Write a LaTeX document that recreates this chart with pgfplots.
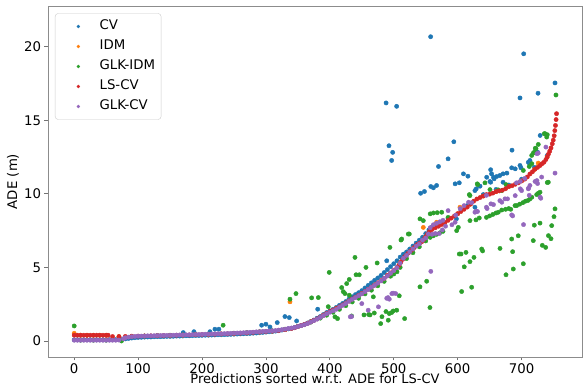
\documentclass[border=0pt]{standalone}
\usepackage{fontspec}
\setmainfont{DejaVu Sans}
\usepackage{pgfplots}
\pgfplotsset{compat=1.18}
\definecolor{tabblue}{HTML}{1F77B4}
\definecolor{taborange}{HTML}{FF7F0E}
\definecolor{tabgreen}{HTML}{2CA02C}
\definecolor{tabred}{HTML}{D62728}
\definecolor{tabpurple}{HTML}{9467BD}
\newcommand{\fs}{\fontsize{13.3}{16}\selectfont}
\pgfplotsset{
  dotlegend/.style={legend image code/.code={\path (0pt,0pt) (38pt,0pt); \draw[##1,mark size=1.5pt] plot coordinates {(18pt,0pt)};}},
  dots/.style={only marks, mark=*, mark size=2.15pt, mark options={draw=#1, fill=#1}, color=#1, dotlegend},
}
\begin{document}
\begin{tikzpicture}
\begin{axis}[
  scale only axis, width=534pt, height=351pt,
  xmin=-41, xmax=794.5, ymin=-1.09, ymax=22.77,
  xtick={0,100,...,700}, ytick={0,5,10,15,20},
  tick align=outside, major tick length=3.5pt,
  tick pos=left,
  tick style={black!55, line width=0.8pt},
  axis line style={black!45, line width=0.8pt},
  /pgf/number format/assume math mode=true,
  ticklabel style={font=\fs},
  xticklabel style={inner sep=1pt, yshift=-1.6pt},
  xlabel={Predictions sorted w.r.t. ADE for LS-CV},
  ylabel={ADE (m)},
  label style={font=\fs},
  xlabel style={at={(axis description cs:0.5,-0.0755)}, anchor=base, inner sep=1pt, font=\fontsize{13}{15}\selectfont},
  ylabel style={at={(axis description cs:-0.0655,0.5)}, anchor=center},
  legend cell align=left,
  legend style={at={(0,1)}, anchor=north west, xshift=7pt, yshift=-7.3pt,
    draw=black!20, rounded corners=3pt, fill=white, font=\fs,
    inner xsep=5pt, inner ysep=5.5pt, row sep=5pt,
    nodes={inner sep=1pt, text height=10pt, text depth=3pt}},
]
% CV
\addplot[dots=tabblue] coordinates {
(0,0.08)(5,0.08)(10,0.08)(15,0.08)(20,0.08)(25,0.08)(30,0.08)(35,0.08)(40,0.08)(45,0.08)(50,0.08)(55,0.08)(60,0.09)(65,0.09)(70,0.1)(75,0.12)
(80,0.14)(85,0.17)(90,0.2)(95,0.22)(100,0.24)(105,0.25)(110,0.26)(115,0.27)(120,0.27)(125,0.28)(130,0.29)(135,0.29)(140,0.30)(145,0.31)(150,0.31)(155,0.32)(160,0.33)(165,0.33)(170,0.34)(175,0.35)(180,0.35)(185,0.36)(190,0.37)(195,0.37)(200,0.38)(205,0.39)(210,0.39)(215,0.40)(220,0.41)(225,0.42)(230,0.42)(235,0.43)(240,0.44)(245,0.45)(250,0.46)(255,0.47)(260,0.48)(265,0.49)(270,0.50)(275,0.51)(280,0.53)(285,0.54)(290,0.56)(295,0.58)(300,0.60)(305,0.62)(310,0.64)(315,0.67)(320,0.70)(325,0.74)(330,0.78)(335,0.82)(340,0.86)(345,0.92)(350,0.99)(355,1.05)(360,1.12)(365,1.22)(370,1.32)(375,1.42)(380,1.55)(385,1.66)(390,1.80)(395,1.93)(400,2.05)(405,2.15)(410,2.28)(415,2.42)(420,2.55)(425,2.68)(430,2.85)(435,3.0)(440,3.15)(445,3.28)(450,3.42)(455,3.6)(460,3.78)(465,3.95)(470,4.12)(475,4.28)(480,4.45)(485,4.65)(490,4.85)(495,5.05)(500,5.25)(505,5.45)(510,5.7)(515,5.9)(520,6.05)(525,6.25)(530,6.45)(535,6.65)(540,6.85)(545,7.05)(550,7.3)(555,7.55)(560,7.75)(565,7.9)(575,8.1)(585,8.35)(598,8.3)(605,8.9)(615,9.2)(627,9.09)(640,9.95)(660,10.3)(680,10.6)(700,11.0)(720,11.8)(740,12.6)
(170.6,0.57)(187.3,0.63)(212.4,0.63)(220.2,0.8)(226.4,0.8)(293.3,1.07)(300,1.14)(306.3,0.95)(317.7,1.25)(329.7,1.66)(336.5,1.59)(348,1.36)(381,2.16)(489,5.45)
(542,10.04)(548,10.16)(558,10.5)(562,10.41)(567,10.57)(570,11.86)(585,12.38)(594,13.54)(596,10.68)(602.5,10.75)(609,11.36)(616,11.2)(627,10.22)(629,10.34)(635,10.52)(645.4,11.13)(650.5,10.84)(651.6,10.79)(651.6,11.64)(653,11.36)(656,11.13)(657,11.02)(661,11.18)(666,11.25)(671,11.36)(671,10.79)(677,11.41)(684.5,11.77)(685,12.97)(690,11.7)(697.5,11.93)(699,11.77)(710.5,12.15)(712,12.09)(713,12.27)(725,12.84)(729,13.97)
(488,16.18)(504.5,15.95)(492.5,13.27)(498.3,12.82)(496.7,12.27)(557.7,20.68)(703.3,19.52)(752.3,17.54)(725.7,16.84)(697.5,16.52)
};
\addlegendentry{CV}
% IDM
\addplot[dots=taborange] coordinates {
(0,0.52)(10,0.39)(20,0.39)(30,0.39)(40,0.39)(50,0.39)(70,0.30)(90,0.32)(110,0.34)(130,0.36)(150,0.38)(170,0.40)(190,0.43)(210,0.45)(230,0.48)(250,0.51)(270,0.55)(290,0.61)(310,0.67)(330,0.77)(337.6,2.66)(350,0.98)(370,1.3)(390,1.75)(410,2.2)(430,2.72)(450,3.22)(470,3.8)(490,4.45)(510,5.3)(530,6.28)(546.2,7.72)(550,7.08)(567,8.07)(580,8.05)(600,8.65)(603.6,9.09)(620,9.3)(640,9.85)(660,10.15)(680,10.5)(700,10.88)(720,11.65)(726,12.09)(740,12.5)
};
\addlegendentry{IDM}
% GLK-IDM
\addplot[dots=tabgreen] coordinates {
(10,0.05)(30,0.05)(50,0.05)(90,0.29)(110,0.34)(130,0.37)(150,0.39)(170,0.41)(190,0.44)(210,0.46)(250,0.53)(270,0.57)(290,0.63)(310,0.69)(330,0.8)(350,0.98)(370,1.28)
(0,1.02)(74,0.0)(233,1.07)(337.6,2.84)(347,3.22)(371.5,2.93)(382,2.95)(397.5,2.33)(399,4.66)(408,1.64)(412,1.52)(418.5,3.63)(421,3.35)(423.6,3.22)(426.3,3.9)(430.4,4.18)(430.4,3.11)(434,1.7)(439.3,5.68)(441,4.5)(446,4.5)(453.4,1.77)(456.5,5.0)(460.7,1.8)(462.8,1.77)(469.5,1.9)(468,3.0)(474,5.3)(479.5,1.18)(481.5,1.65)(487.8,2.0)(491.4,1.41)(493,1.86)(496.7,1.93)(499.2,2.04)(504.6,2.09)(508.6,3.07)(517,1.52)(541,3.68)(551.5,4.06)(556.6,2.27)(606.2,3.36)(621.9,3.65)(602.5,5.91)(605.2,5.91)(613,6.02)(619.2,5.39)(625.5,5.68)(610.3,5.04)(637.6,6.25)(639,6.12)(666.2,6.29)(686,6.07)(687,4.89)(675.6,4.5)(702.7,5.25)(694.8,7.15)(684.5,6.93)(718.3,6.82)(728.8,8.01)(719.9,7.87)(732.4,6.5)(737.7,6.36)(742,7.16)(746,6.95)(747.1,7.84)(750.7,8.45)(752.3,8.98)(740.2,10.77)(741.8,10.79)(753.8,16.72)(736.6,14.09)(740.2,14.02)(735.5,14.09)(739.3,13.86)(726.1,13.36)(722.5,13.07)(721.4,13.1)(718.3,12.77)(715.8,12.61)(720,12.84)(716,12.05)(712,11.86)(702.7,11.59)(675.6,10.63)(663.6,10.27)(669,10.22)(650.5,10.29)(642.7,10.75)(630.7,10.68)(631.3,10.63)(618.2,9.95)(619.2,9.88)(726.1,10.0)(728.8,10.11)
(619.2,8.18)(628.6,8.23)(633.8,8.36)(645,8.4)(650,8.5)(655,8.6)(660,8.7)(663.5,8.75)(669,8.9)(675,8.95)(680,9.0)(683,8.95)(689.7,9.2)(692.3,9.2)(697,9.3)(702,9.4)(706,9.5)(710,9.55)(713,9.65)(716,9.77)(723.6,9.95)(726.2,10.04)
(511.3,6.86)(512.4,6.93)(522.7,7.27)(524.3,7.27)(494,6.36)(541,8.3)(546.2,8.18)(557,8.64)(562,8.7)(568,8.72)(575,8.75)(557,7.04)(562,7.15)(567,7.25)(572,7.35)(577,7.45)(598.4,7.5)(601,7.72)(585,8.4)
(385,1.55)(395,1.75)(405,1.95)(415,2.15)(425,2.4)(435,2.65)(445,2.9)(455,3.2)(465,3.45)(475,3.75)(485,4.05)(495,4.4)(500,4.55)(505,4.7)(510,5.0)(520,5.6)(530,6.0)(540,6.4)(550,6.8)
};
\addlegendentry{GLK-IDM}
% LS-CV
\addplot[dots=tabred] coordinates {
(0,0.39)(5,0.39)(10,0.39)(15,0.39)(20,0.39)(25,0.39)(30,0.39)(35,0.39)(40,0.39)(45,0.39)(50,0.39)(53,0.39)
(60,0.30)(70,0.30)(80,0.31)(90,0.32)(100,0.33)(110,0.34)(120,0.35)(130,0.36)(140,0.37)(150,0.38)(160,0.39)(170,0.40)(180,0.41)(190,0.43)(200,0.44)(210,0.45)(220,0.46)(230,0.48)(240,0.49)(250,0.51)(260,0.53)(270,0.55)(280,0.58)(290,0.61)(300,0.64)(310,0.67)(320,0.71)(330,0.77)(340,0.85)(345,0.9)(350,0.98)(355,1.05)(360,1.12)(365,1.2)(370,1.3)(375,1.4)(380,1.5)(385,1.62)(390,1.75)(395,1.88)(400,2.0)(405,2.1)(410,2.2)(415,2.32)(420,2.45)(425,2.58)(430,2.72)(435,2.85)(440,2.98)(445,3.1)(450,3.22)(455,3.37)(460,3.52)(465,3.66)(470,3.8)(475,3.95)(480,4.1)(485,4.25)(490,4.45)(495,4.62)(500,4.8)(505,5.0)(508,5.15)(511,5.35)(514,5.55)(517,5.72)(520,5.85)(523,5.98)(526,6.1)(529,6.22)(532,6.35)(535,6.48)(538,6.58)(541,6.66)(544,6.75)(547,6.9)(550,7.08)(553,7.28)(556,7.45)(560,7.58)(565,7.7)(570,7.8)(575,7.92)(580,8.05)(585,8.2)(590,8.35)(595,8.5)(600,8.65)(605,8.8)(610,8.95)(615,9.1)(620,9.3)(625,9.5)(630,9.65)(635,9.75)(640,9.85)(645,9.95)(650,9.98)(655,10.05)(660,10.15)(665,10.2)(670,10.25)(675,10.35)(680,10.5)(685,10.55)(690,10.65)(695,10.75)(700,10.88)(705,11.0)(709,11.15)(713,11.35)(717,11.5)(721,11.68)(725,11.8)(729,11.93)(732,12.05)(735,12.15)(738,12.33)(740,12.5)(742,12.7)(744,12.9)(746,13.12)(748,13.4)(749.5,13.65)(751,13.95)(752,14.3)(753,14.65)(754,15.05)(754.7,15.45)
};
\addlegendentry{LS-CV}
% GLK-CV
\addplot[dots=tabpurple] coordinates {
(0,0.05)(5,0.05)(10,0.05)(15,0.05)(20,0.05)(25,0.05)(30,0.05)(35,0.05)(40,0.05)(45,0.05)(50,0.05)(55,0.05)(60,0.05)(65,0.05)(70,0.06)(77,0.15)
(80,0.22)(85,0.26)(90,0.29)(95,0.31)(100,0.33)(105,0.33)(110,0.34)(115,0.35)(120,0.35)(125,0.36)(130,0.37)(135,0.37)(140,0.38)(145,0.38)(150,0.39)(155,0.39)(160,0.40)(165,0.41)(170,0.41)(175,0.42)(180,0.42)(185,0.43)(190,0.44)(195,0.44)(200,0.45)(205,0.46)(210,0.46)(215,0.47)(220,0.48)(225,0.49)(230,0.49)(235,0.50)(240,0.51)(245,0.52)(250,0.53)(255,0.54)(260,0.55)(265,0.56)(270,0.57)(275,0.59)(280,0.60)(285,0.62)(290,0.63)(295,0.65)(300,0.66)(305,0.68)(310,0.69)(315,0.71)(320,0.74)(325,0.77)(330,0.80)(335,0.85)(340,0.88)(345,0.92)(350,0.98)(355,1.04)(360,1.10)(365,1.18)(370,1.28)(375,1.38)(380,1.48)(385,1.60)(390,1.72)(395,1.85)(400,1.95)(405,2.05)(410,2.15)(415,2.30)(420,2.42)(425,2.55)(430,2.70)(435,2.83)(440,2.95)(445,3.08)(450,3.20)(455,3.35)(460,3.50)(465,3.65)(470,3.78)(475,3.93)(480,4.08)(485,4.25)(490,4.42)(495,4.60)(500,4.78)(505,4.98)(510,5.28)(515,5.62)(520,5.82)(525,6.05)(530,6.25)(535,6.45)(540,6.60)(545,6.85)(550,7.00)(554,7.27)
(557,7.7)(560,7.25)(562,7.9)(565,7.3)(567,8.0)(571,7.3)(572,8.1)(576,7.55)(577,8.2)(581,7.8)(585,8.86)(591,7.9)(596,8.07)(597,8.55)(604,9.0)(610,9.2)(617,9.43)(622,9.4)(627,8.75)(629,8.82)(631,8.8)(645,9.09)(646,9.0)(645,9.9)(652,9.32)(656,9.27)(666,9.54)(669,9.43)(674,9.66)(678,9.66)(686,8.5)(684.5,8.57)(690,9.88)(692,10.75)(698,10.85)(698,10.34)(700,10.22)(703,7.91)(705,11.05)(710.5,10.34)(711,10.4)(712,9.9)(713,10.57)(721,10.84)(724,10.9)(725,10.7)(729,9.77)(730,9.7)(731.4,11.14)(724,12.73)(726,12.77)(738,13.18)(752.3,11.41)
(558,4.73)(499,3.25)(503,3.22)(489,2.9)(491,2.95)(493,2.84)(497,3.22)(476,2.32)(460,2.09)(450,2.54)(432,1.64)(434,1.66)
};
\addlegendentry{GLK-CV}
\end{axis}
\pgfresetboundingbox
\path (-48pt,-30pt) rectangle (539pt,357pt);
\end{tikzpicture}
\end{document}
